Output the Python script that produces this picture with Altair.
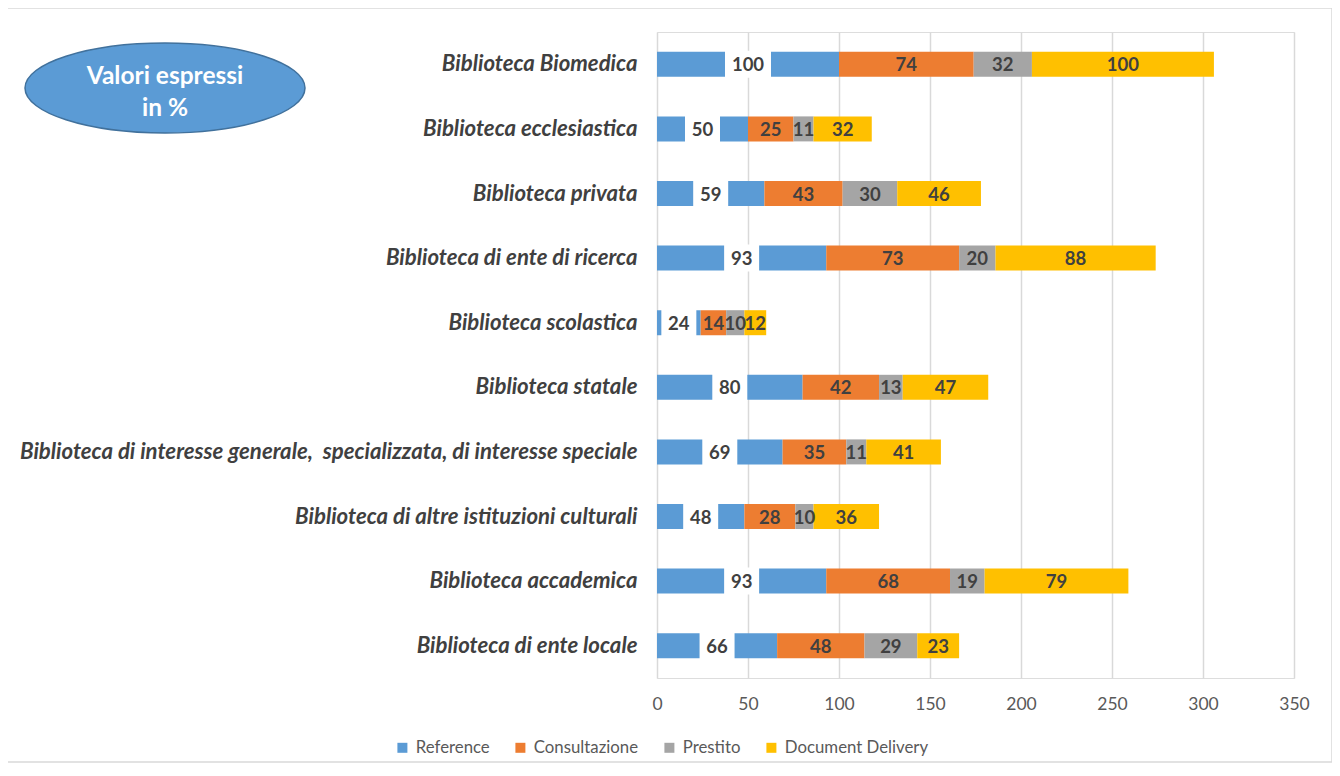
import altair as alt
import pandas as pd

categories = [
    "Biblioteca Biomedica",
    "Biblioteca ecclesiastica",
    "Biblioteca privata",
    "Biblioteca di ente di ricerca",
    "Biblioteca scolastica",
    "Biblioteca statale",
    "Biblioteca di interesse generale,\u00a0 specializzata, di interesse speciale",
    "Biblioteca di altre istituzioni culturali",
    "Biblioteca accademica",
    "Biblioteca di ente locale",
]
series = ["Reference", "Consultazione", "Prestito", "Document Delivery"]
reference = [100, 50, 59, 93, 24, 80, 69, 48, 93, 66]
consultazione = [74, 25, 43, 73, 14, 42, 35, 28, 68, 48]
prestito = [32, 11, 30, 20, 10, 13, 11, 10, 19, 29]
document_delivery = [100, 32, 46, 88, 12, 47, 41, 36, 79, 23]
colors = ["#5b9bd5", "#ed7d31", "#a5a5a5", "#ffc000"]
x_ticks = [0, 50, 100, 150, 200, 250, 300, 350]

rows = []
for s_i, (s, vals) in enumerate(zip(series, [reference, consultazione, prestito, document_delivery])):
    for c, v in zip(categories, vals):
        rows.append({"cat": c, "serie": s, "value": v, "ord": s_i})
df = pd.DataFrame(rows)

FONT = "Lato"
TXT = "#404040"

base = alt.Chart(df).transform_stack(
    stack="value", groupby=["cat"], as_=["x0", "x1"], sort=[alt.SortField("ord")]
).transform_calculate(mid="(datum.x0 + datum.x1) / 2")

ycat = alt.Y("cat:N", sort=categories, title=None,
             axis=alt.Axis(labelFont=FONT, labelFontSize=22.2, labelFontWeight="bold",
                           labelFontStyle="italic", labelColor=TXT, labelPadding=20,
                           ticks=False, domain=False, labelLimit=700))

bars = base.mark_bar(size=25).encode(
    x=alt.X("x0:Q", scale=alt.Scale(domain=[0, 350], nice=False), title=None,
            axis=alt.Axis(values=x_ticks, labelFont=FONT, labelFontSize=17.5, labelColor="#595959",
                          labelPadding=17, ticks=False, domain=False, grid=True,
                          labelFlush=False,
                          gridColor="#d9d9d9", gridWidth=1.5)),
    x2="x1:Q",
    y=ycat,
    color=alt.Color("serie:N", scale=alt.Scale(domain=series, range=colors),
                    sort=series, title=None,
                    legend=alt.Legend(orient="none", direction="horizontal", legendX=-263,
                                      legendY=707, symbolType="square", symbolSize=100,
                                      symbolStrokeWidth=0, labelFont=FONT, labelFontSize=16.8,
                                      labelColor="#595959", columnPadding=22, labelOffset=5)),
)

box3 = base.transform_filter("datum.ord == 0 && datum.value >= 100").mark_tick(
    thickness=46, size=27, color="white", opacity=1
).encode(x="mid:Q", y=alt.Y("cat:N", sort=categories))
box2 = base.transform_filter("datum.ord == 0 && datum.value < 100").mark_tick(
    thickness=35, size=27, color="white", opacity=1
).encode(x="mid:Q", y=alt.Y("cat:N", sort=categories))

labels = base.mark_text(font=FONT, fontSize=18.5, fontWeight="bold", color=TXT,
                        align="center", baseline="middle", dy=1).encode(
    x="mid:Q", y=alt.Y("cat:N", sort=categories), text="value:Q")

one = alt.Chart(pd.DataFrame({"a": [0]}))
border = one.mark_rect(fill=None, stroke="#d9d9d9", strokeWidth=1.5).encode(
    x=alt.value(-650), x2=alt.value(675), y=alt.value(-24), y2=alt.value(730))
ellipse = one.mark_point(
    shape="M -1 0 A 1 0.3214 0 1 0 1 0 A 1 0.3214 0 1 0 -1 0 Z",
    size=280 * 280, filled=True, fill="#5b9bd5", stroke="#41719c", strokeWidth=1.5, opacity=1
).encode(x=alt.value(-492), y=alt.value(56))
t1 = one.mark_text(text="Valori espressi", font=FONT, fontSize=24.5, fontWeight="bold",
                   color="white", align="center", baseline="middle").encode(
    x=alt.value(-492), y=alt.value(45))
t2 = one.mark_text(text="in %", font=FONT, fontSize=24.5, fontWeight="bold",
                   color="white", align="center", baseline="middle").encode(
    x=alt.value(-492), y=alt.value(77))

chart = alt.layer(border, ellipse, t1, t2, bars, box3, box2, labels).properties(
    width=637, height=646,
    autosize=alt.AutoSizeParams(type="none"),
    padding={"left": 649, "top": 24, "right": 38, "bottom": 86},
).configure_view(stroke=None).configure(background="white")

chart.save("out.html", embed_options={"renderer": "svg", "actions": False})
